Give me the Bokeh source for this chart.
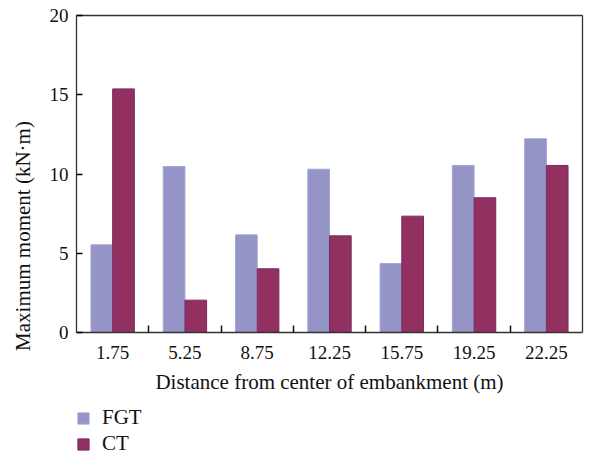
import numpy as np
from bokeh.plotting import figure
from bokeh.models import ColumnDataSource, FixedTicker, Legend, LegendItem, Range1d, LinearAxis
from bokeh.transform import dodge
from bokeh.embed import file_html
from bokeh.resources import INLINE

categories = ["1.75", "5.25", "8.75", "12.25", "15.75", "19.25", "22.25"]
fgt = [5.53, 10.47, 6.16, 10.3, 4.35, 10.54, 12.22]
ct = [15.37, 2.04, 4.02, 6.1, 7.34, 8.5, 10.54]
y_ticks = [0, 5, 10, 15, 20]
y_max = 20

FONT = "Liberation Serif"
AX = "#333333"
TXT = "#111111"

# layout (pixels): frame from y=15 to figure bottom; value axis 0..20 spans 317 px
W, H = 591, 456
top_px, zero_px, axis_px = 15, 332, 317
y_start = -(H - zero_px) * y_max / axis_px

pos = list(range(1, len(categories) + 1))
src = ColumnDataSource(dict(x=pos, fgt=fgt, ct=ct))

p = figure(width=W, height=H, output_backend="svg", toolbar_location=None,
           x_range=Range1d(0.5, len(categories) + 0.5), y_range=Range1d(y_start, y_max),
           min_border_left=76, min_border_right=9, min_border_top=top_px, min_border_bottom=0)
p.outline_line_color = None
p.grid.visible = False

r1 = p.vbar(x=dodge("x", -0.15), top="fgt", width=0.3, source=src,
            fill_color="#9494c7", line_color="#a3a3d3", line_width=1)
r2 = p.vbar(x=dodge("x", 0.15), top="ct", width=0.3, source=src,
            fill_color="#923060", line_color="#7a2a6c", line_width=1)

xa = p.xaxis[0]
xa.fixed_location = 0
xa.ticker = FixedTicker(ticks=pos, minor_ticks=[i + 0.5 for i in pos[:-1]])
xa.major_label_overrides = {i: c for i, c in zip(pos, categories)}
xa.major_tick_line_color = None
xa.minor_tick_in = 7
xa.minor_tick_out = 0
xa.minor_tick_line_color = TXT
xa.minor_tick_line_width = 1.5
xa.axis_label = "Distance from center of embankment (m)"

ya = p.yaxis[0]
ya.bounds = (0, y_max)
ya.ticker = FixedTicker(ticks=y_ticks)
ya.major_tick_in = 6
ya.major_tick_out = 0
ya.minor_tick_line_color = None
ya.axis_label = "Maximum moment (kN\u00b7m)"

for ax in (xa, ya):
    ax.axis_line_color = AX
    ax.axis_line_width = 1.3
    ax.major_tick_line_width = 1.3
    ax.major_label_text_font = FONT
    ax.major_label_text_font_size = "19px"
    ax.major_label_text_color = TXT
    ax.axis_label_text_font = FONT
    ax.axis_label_text_font_size = "21px"
    ax.axis_label_text_font_style = "normal"
    ax.axis_label_text_color = TXT
xa.major_label_standoff = 7
xa.axis_label_standoff = 8
ya.major_label_standoff = 8
ya.axis_label_standoff = 12

# frame border on top and right (value range only)
right = LinearAxis(bounds=(0, y_max), ticker=FixedTicker(ticks=[]), axis_line_color=AX,
                   axis_line_width=1.3, major_label_text_font_size="0px")
p.add_layout(right, "right")
topax = LinearAxis(ticker=FixedTicker(ticks=[]), axis_line_color=AX,
                   axis_line_width=1.3, major_label_text_font_size="0px")
p.add_layout(topax, "above")

legend = Legend(items=[LegendItem(label="FGT", renderers=[r1]),
                       LegendItem(label="CT", renderers=[r2])],
                orientation="vertical", location=(0, 0),
                glyph_width=14, glyph_height=14, label_height=16, spacing=1,
                label_standoff=12, padding=0, margin=0,
                border_line_color=None, background_fill_alpha=0,
                label_text_font=FONT, label_text_font_size="21px",
                label_text_color=TXT)
p.add_layout(legend, "center")

open("out.html", "w").write(file_html(p, INLINE))
